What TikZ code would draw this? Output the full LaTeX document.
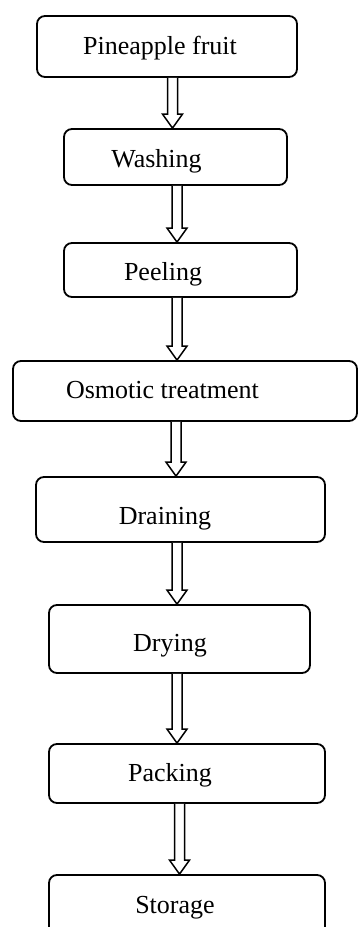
\documentclass[tikz,border=0pt]{standalone}
\usepackage{fontspec}
\setmainfont{Liberation Serif}
\usetikzlibrary{calc}
\tikzset{
  stage/.style={draw, line width=1.8pt, rounded corners=8pt, inner sep=0pt, fill=white},
  lbl/.style={font=\fontsize{26}{30}\selectfont, inner sep=0pt, anchor=base},
  blockarr/.style={draw, line width=1.5pt, line join=miter, fill=white},
}
\newcommand\flowarrow[3]{\path[blockarr] let \p1=(#1.south), \p2=(#2.north) in
  ({#3pt-5pt},\y1) -- ({#3pt-5pt},{\y2+14pt}) -- ({#3pt-10pt},{\y2+14pt}) -- ({#3pt},\y2)
  -- ({#3pt+10pt},{\y2+14pt}) -- ({#3pt+5pt},{\y2+14pt}) -- ({#3pt+5pt},\y1);}
\begin{document}
\begin{tikzpicture}[x=1pt,y=-1pt]
\useasboundingbox (0,0) rectangle (358,927);
\clip (0,0) rectangle (358,927);
\node[stage, minimum width=260pt, minimum height=61pt] (b1) at (167,46.5) {};
\node[stage, minimum width=223pt, minimum height=56pt] (b2) at (175.5,157) {};
\node[stage, minimum width=233pt, minimum height=54pt] (b3) at (180.5,270) {};
\node[stage, minimum width=344pt, minimum height=60pt] (b4) at (185,391) {};
\node[stage, minimum width=289pt, minimum height=65pt] (b5) at (180.5,509.5) {};
\node[stage, minimum width=261pt, minimum height=68pt] (b6) at (179.5,639) {};
\node[stage, minimum width=276pt, minimum height=59pt] (b7) at (187,773.5) {};
\node[stage, minimum width=276pt, minimum height=70pt] (b8) at (187,910) {};
\node[lbl] (t1) at (160,54) {Pineapple fruit};
\node[lbl] (t2) at (156.5,167) {Washing};
\node[lbl] (t3) at (163,280.7) {Peeling};
\node[lbl] (t4) at (162.5,398.3) {Osmotic treatment};
\node[lbl] (t5) at (165,524) {Draining};
\node[lbl] (t6) at (170,651) {Drying};
\node[lbl] (t7) at (170,781.7) {Packing};
\node[lbl] (t8) at (175,913.3) {Storage};
\flowarrow{b1}{b2}{172.5}
\flowarrow{b2}{b3}{177}
\flowarrow{b3}{b4}{177}
\flowarrow{b4}{b5}{176}
\flowarrow{b5}{b6}{177}
\flowarrow{b6}{b7}{177}
\flowarrow{b7}{b8}{179.5}
\end{tikzpicture}
\end{document}
